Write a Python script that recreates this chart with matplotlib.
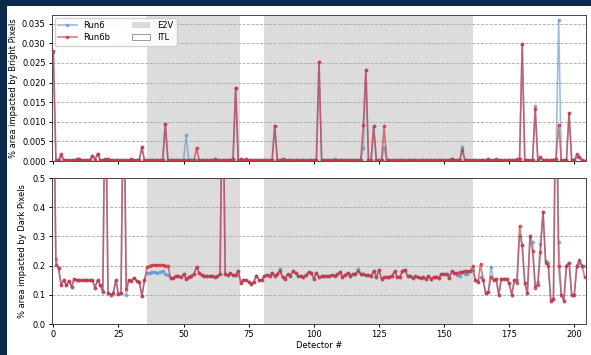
import numpy as np
import matplotlib
matplotlib.use("Agg")
import matplotlib.pyplot as plt
from matplotlib.patches import Rectangle, Patch

detectors = list(range(205))

bright_run6b = [
    0.0280, 0.0002, 0.0002, 0.0019, 0.0002, 0.0002, 0.0003, 0.0002, 0.0002, 0.0004,
    0.0005, 0.0002, 0.0002, 0.0002, 0.0003, 0.0014, 0.0003, 0.0019, 0.0002, 0.0002,
    0.0004, 0.0004, 0.0002, 0.0002, 0.0002, 0.0002, 0.0002, 0.0002, 0.0002, 0.0002,
    0.0005, 0.0002, 0.0002, 0.0003, 0.0035, 0.0002, 0.0002, 0.0002, 0.0002, 0.0002,
    0.0002, 0.0002, 0.0002, 0.0095, 0.0002, 0.0002, 0.0002, 0.0002, 0.0002, 0.0002,
    0.0002, 0.0002, 0.0002, 0.0002, 0.0002, 0.0033, 0.0002, 0.0002, 0.0002, 0.0002,
    0.0002, 0.0002, 0.0004, 0.0002, 0.0002, 0.0002, 0.0002, 0.0002, 0.0002, 0.0005,
    0.0187, 0.0002, 0.0004, 0.0002, 0.0004, 0.0002, 0.0002, 0.0002, 0.0002, 0.0002,
    0.0002, 0.0002, 0.0002, 0.0002, 0.0002, 0.0090, 0.0002, 0.0002, 0.0004, 0.0002,
    0.0002, 0.0002, 0.0002, 0.0002, 0.0002, 0.0002, 0.0002, 0.0002, 0.0002, 0.0002,
    0.0002, 0.0002, 0.0253, 0.0002, 0.0002, 0.0002, 0.0002, 0.0002, 0.0002, 0.0002,
    0.0002, 0.0002, 0.0002, 0.0002, 0.0002, 0.0002, 0.0002, 0.0002, 0.0002, 0.0092,
    0.0232, 0.0002, 0.0002, 0.0088, 0.0002, 0.0002, 0.0002, 0.0088, 0.0002, 0.0002,
    0.0003, 0.0002, 0.0002, 0.0002, 0.0002, 0.0002, 0.0002, 0.0002, 0.0003, 0.0002,
    0.0002, 0.0002, 0.0002, 0.0002, 0.0002, 0.0002, 0.0002, 0.0002, 0.0002, 0.0002,
    0.0002, 0.0002, 0.0002, 0.0006, 0.0002, 0.0002, 0.0002, 0.0027, 0.0002, 0.0002,
    0.0002, 0.0002, 0.0002, 0.0002, 0.0002, 0.0002, 0.0002, 0.0004, 0.0002, 0.0002,
    0.0004, 0.0002, 0.0002, 0.0002, 0.0002, 0.0002, 0.0002, 0.0002, 0.0004, 0.0004,
    0.0298, 0.0002, 0.0003, 0.0002, 0.0003, 0.0132, 0.0002, 0.0009, 0.0002, 0.0002,
    0.0002, 0.0002, 0.0002, 0.0006, 0.0093, 0.0002, 0.0002, 0.0003, 0.0122, 0.0002,
    0.0002, 0.0018, 0.0009, 0.0002, 0.0001,
]

bright_run6 = [
    0.0278, 0.0002, 0.0002, 0.0012, 0.0002, 0.0002, 0.0003, 0.0002, 0.0002, 0.0004,
    0.0005, 0.0002, 0.0002, 0.0002, 0.0003, 0.0014, 0.0003, 0.0019, 0.0002, 0.0002,
    0.0004, 0.0004, 0.0002, 0.0002, 0.0002, 0.0002, 0.0002, 0.0002, 0.0002, 0.0002,
    0.0005, 0.0002, 0.0002, 0.0003, 0.0035, 0.0002, 0.0002, 0.0002, 0.0002, 0.0002,
    0.0002, 0.0002, 0.0002, 0.0095, 0.0002, 0.0002, 0.0002, 0.0002, 0.0002, 0.0002,
    0.0002, 0.0065, 0.0002, 0.0002, 0.0002, 0.0003, 0.0002, 0.0002, 0.0002, 0.0002,
    0.0002, 0.0002, 0.0004, 0.0002, 0.0002, 0.0002, 0.0002, 0.0002, 0.0002, 0.0005,
    0.0187, 0.0002, 0.0004, 0.0002, 0.0004, 0.0002, 0.0002, 0.0002, 0.0002, 0.0002,
    0.0002, 0.0002, 0.0002, 0.0002, 0.0002, 0.0090, 0.0002, 0.0002, 0.0004, 0.0002,
    0.0002, 0.0002, 0.0002, 0.0002, 0.0002, 0.0002, 0.0002, 0.0002, 0.0002, 0.0002,
    0.0002, 0.0002, 0.0253, 0.0002, 0.0002, 0.0002, 0.0002, 0.0002, 0.0005, 0.0002,
    0.0002, 0.0002, 0.0002, 0.0002, 0.0002, 0.0002, 0.0002, 0.0002, 0.0002, 0.0034,
    0.0232, 0.0002, 0.0002, 0.0088, 0.0002, 0.0002, 0.0002, 0.0033, 0.0002, 0.0002,
    0.0003, 0.0002, 0.0002, 0.0002, 0.0002, 0.0002, 0.0002, 0.0002, 0.0003, 0.0002,
    0.0002, 0.0002, 0.0002, 0.0002, 0.0002, 0.0002, 0.0002, 0.0002, 0.0002, 0.0002,
    0.0002, 0.0002, 0.0002, 0.0006, 0.0002, 0.0002, 0.0002, 0.0036, 0.0002, 0.0002,
    0.0002, 0.0002, 0.0002, 0.0002, 0.0002, 0.0002, 0.0002, 0.0004, 0.0002, 0.0002,
    0.0004, 0.0002, 0.0002, 0.0002, 0.0002, 0.0002, 0.0002, 0.0002, 0.0004, 0.0004,
    0.0298, 0.0002, 0.0003, 0.0002, 0.0003, 0.0139, 0.0002, 0.0009, 0.0002, 0.0002,
    0.0002, 0.0002, 0.0002, 0.0006, 0.0359, 0.0002, 0.0002, 0.0003, 0.0122, 0.0002,
    0.0002, 0.0009, 0.0009, 0.0002, 0.0001,
]

dark_run6b = [
    0.900, 0.203, 0.192, 0.135, 0.150, 0.132, 0.148, 0.128, 0.154, 0.151,
    0.150, 0.150, 0.149, 0.150, 0.149, 0.150, 0.125, 0.150, 0.135, 0.110,
    0.900, 0.105, 0.100, 0.105, 0.150, 0.103, 0.105, 0.900, 0.120, 0.150,
    0.148, 0.158, 0.148, 0.145, 0.095, 0.150, 0.195, 0.200, 0.201, 0.202,
    0.203, 0.201, 0.203, 0.200, 0.200, 0.157, 0.158, 0.165, 0.165, 0.160,
    0.170, 0.155, 0.162, 0.165, 0.172, 0.195, 0.175, 0.168, 0.165, 0.165,
    0.163, 0.165, 0.162, 0.163, 0.172, 0.900, 0.170, 0.168, 0.173, 0.168,
    0.168, 0.183, 0.140, 0.152, 0.150, 0.145, 0.138, 0.145, 0.166, 0.150,
    0.150, 0.165, 0.168, 0.165, 0.175, 0.165, 0.170, 0.182, 0.160, 0.155,
    0.170, 0.165, 0.180, 0.175, 0.165, 0.165, 0.160, 0.168, 0.178, 0.175,
    0.155, 0.175, 0.160, 0.163, 0.165, 0.163, 0.165, 0.168, 0.165, 0.170,
    0.178, 0.162, 0.168, 0.175, 0.165, 0.172, 0.172, 0.180, 0.172, 0.170,
    0.168, 0.168, 0.165, 0.182, 0.160, 0.185, 0.155, 0.160, 0.160, 0.162,
    0.165, 0.180, 0.162, 0.160, 0.180, 0.186, 0.165, 0.165, 0.158, 0.163,
    0.160, 0.158, 0.160, 0.155, 0.163, 0.155, 0.160, 0.162, 0.158, 0.172,
    0.172, 0.170, 0.158, 0.180, 0.175, 0.175, 0.177, 0.178, 0.183, 0.180,
    0.180, 0.198, 0.150, 0.145, 0.205, 0.150, 0.105, 0.110, 0.160, 0.150,
    0.155, 0.100, 0.155, 0.155, 0.155, 0.140, 0.100, 0.150, 0.140, 0.335,
    0.270, 0.140, 0.105, 0.300, 0.250, 0.125, 0.135, 0.245, 0.385, 0.210,
    0.200, 0.080, 0.085, 0.900, 0.200, 0.100, 0.080, 0.200, 0.210, 0.100,
    0.100, 0.200, 0.220, 0.200, 0.160,
]

dark_run6 = [
    0.900, 0.222, 0.192, 0.135, 0.150, 0.132, 0.148, 0.128, 0.154, 0.151,
    0.150, 0.150, 0.149, 0.150, 0.149, 0.150, 0.125, 0.150, 0.135, 0.113,
    0.900, 0.105, 0.100, 0.105, 0.150, 0.103, 0.105, 0.900, 0.100, 0.150,
    0.148, 0.158, 0.148, 0.145, 0.095, 0.150, 0.175, 0.175, 0.178, 0.177,
    0.175, 0.178, 0.180, 0.170, 0.168, 0.157, 0.158, 0.165, 0.165, 0.160,
    0.170, 0.155, 0.162, 0.165, 0.172, 0.195, 0.175, 0.168, 0.165, 0.165,
    0.163, 0.165, 0.162, 0.163, 0.170, 0.900, 0.170, 0.168, 0.173, 0.168,
    0.168, 0.183, 0.140, 0.152, 0.150, 0.145, 0.138, 0.145, 0.166, 0.150,
    0.150, 0.165, 0.168, 0.165, 0.175, 0.165, 0.170, 0.190, 0.160, 0.155,
    0.170, 0.165, 0.180, 0.175, 0.165, 0.165, 0.160, 0.168, 0.178, 0.175,
    0.155, 0.175, 0.160, 0.163, 0.165, 0.163, 0.165, 0.168, 0.165, 0.170,
    0.178, 0.162, 0.168, 0.175, 0.165, 0.172, 0.172, 0.187, 0.172, 0.170,
    0.168, 0.168, 0.165, 0.182, 0.160, 0.185, 0.155, 0.160, 0.160, 0.162,
    0.165, 0.180, 0.162, 0.160, 0.180, 0.186, 0.165, 0.165, 0.158, 0.163,
    0.160, 0.158, 0.160, 0.155, 0.163, 0.155, 0.160, 0.162, 0.158, 0.172,
    0.172, 0.170, 0.158, 0.180, 0.175, 0.168, 0.165, 0.178, 0.172, 0.172,
    0.180, 0.185, 0.150, 0.145, 0.160, 0.150, 0.105, 0.110, 0.195, 0.150,
    0.155, 0.100, 0.155, 0.155, 0.155, 0.140, 0.100, 0.150, 0.150, 0.300,
    0.270, 0.140, 0.105, 0.300, 0.280, 0.130, 0.145, 0.275, 0.385, 0.215,
    0.210, 0.080, 0.085, 0.900, 0.280, 0.100, 0.080, 0.200, 0.210, 0.100,
    0.100, 0.200, 0.210, 0.200, 0.200,
]

e2v_ranges = [(36, 71.5), (81, 161)]

W, H = 591, 355
fig = plt.figure(figsize=(W / 100, H / 100), dpi=100, facecolor="#0b2a4e")
bg = Rectangle((7 / W, 0), 1 - 7 / W, 1 - 6 / H, transform=fig.transFigure,
               facecolor="white", edgecolor="none", zorder=-10)
fig.patches.append(bg)

left, right = 52 / W, 586 / W
ax1 = fig.add_axes([left, 1 - 161 / H, right - left, (161 - 15) / H])
ax2 = fig.add_axes([left, 1 - 324 / H, right - left, (324 - 178) / H], sharex=ax1)

blue = "#5b93c9"
red = "#d0303c"
fs = 6.0

for ax, r6, r6b in [(ax1, bright_run6, bright_run6b), (ax2, dark_run6, dark_run6b)]:
    for a, b in e2v_ranges:
        ax.axvspan(a, b, color="gray", alpha=0.27, lw=0, zorder=0)
    ax.plot(detectors, r6, marker=".", ms=3.5, lw=1.2, color=blue, alpha=0.6, label="Run6", zorder=2)
    ax.plot(detectors, r6b, marker=".", ms=3.5, lw=1.2, color=red, alpha=0.65, label="Run6b", zorder=3)
    ax.yaxis.grid(True, ls="--", color="#aaaaaa", lw=0.6)
    ax.set_axisbelow(True)
    ax.tick_params(labelsize=fs, length=2.5, width=0.7, pad=2)
    for s in ax.spines.values():
        s.set_color("#444444")
        s.set_linewidth(0.7)

ax1.set_xlim(-0.5, 204.5)
ax1.set_ylim(0, 0.0372)
ax1.set_yticks(np.arange(0, 0.0351, 0.005))
ax1.set_yticklabels([f"{v:.3f}" for v in np.arange(0, 0.0351, 0.005)])
ax1.tick_params(labelbottom=False)
ax1.set_ylabel("% area impacted by Bright Pixels", fontsize=fs, labelpad=3)

ax2.set_ylim(0, 0.5)
ax2.set_yticks([0.0, 0.1, 0.2, 0.3, 0.4, 0.5])
ax2.set_xticks([0, 25, 50, 75, 100, 125, 150, 175, 200])
ax2.set_ylabel("% area impacted by Dark Pixels", fontsize=fs, labelpad=4)
ax2.set_xlabel("Detector #", fontsize=fs, labelpad=1.5)

h, l = ax1.get_legend_handles_labels()
h += [Patch(facecolor="gray", alpha=0.27, edgecolor="none"),
      Patch(facecolor="white", edgecolor="#999999", lw=0.7)]
l += ["E2V", "ITL"]
ax1.legend(h, l, ncol=2, loc="upper left", fontsize=fs, frameon=True,
           borderaxespad=0.3, handlelength=2.2, columnspacing=2.6,
           labelspacing=0.3, borderpad=0.45, framealpha=0.9)

fig.savefig("out.png", dpi=100, facecolor=fig.get_facecolor())
